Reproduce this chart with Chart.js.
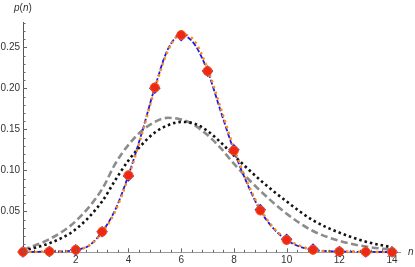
<!DOCTYPE html>
<html>
<head>
<meta charset="utf-8"/>
<title>p(n)</title>
<script src="https://cdn.jsdelivr.net/npm/chart.js"></script>
<style>
html, body { margin: 0; padding: 0; background: #fff; }
#wrap { width: 415px; height: 267px; }
</style>
</head>
<body>
<div id="wrap"><canvas id="plot"></canvas></div>
<script>
// values
const nPoints = [0, 1, 2, 3, 4, 5, 6, 7, 8, 9, 10, 11, 12, 13, 14];
const pRed  = [0.0005, 0.001, 0.003, 0.025, 0.094, 0.201, 0.265, 0.221, 0.124, 0.051, 0.015, 0.003, 0.001, 0.0005, 0.0003];
const pBlue = [0.0005, 0.001, 0.003, 0.025, 0.093, 0.200, 0.264, 0.221, 0.125, 0.052, 0.016, 0.004, 0.001, 0.0005, 0.0003];

const nFine    = [0, 0.5, 1, 1.5, 2, 2.5, 3, 3.5, 4, 4.5, 5, 5.5, 6, 6.5, 7, 7.5, 8, 8.5, 9, 9.5, 10, 10.5, 11, 11.5, 12, 13, 14];
const blueLine = [0.0005, 0.0005, 0.001, 0.001, 0.003, 0.008, 0.025, 0.052, 0.094, 0.145, 0.201, 0.248, 0.265, 0.254, 0.221, 0.172, 0.124, 0.084, 0.051, 0.029, 0.015, 0.007, 0.003, 0.0015, 0.001, 0.0005, 0.0003];
const orangeLine = [0.0005, 0.0005, 0.001, 0.001, 0.003, 0.008, 0.024, 0.050, 0.092, 0.143, 0.199, 0.246, 0.266, 0.258, 0.224, 0.176, 0.127, 0.086, 0.053, 0.030, 0.016, 0.008, 0.003, 0.0015, 0.001, 0.0005, 0.0003];

const nBroad   = [0, 1, 2, 3, 3.5, 4, 4.5, 5, 5.5, 6, 6.5, 7, 7.5, 8, 9, 10, 11, 12, 13, 14];
const blackDot = [0.002, 0.011, 0.028, 0.062, 0.088, 0.112, 0.131, 0.146, 0.155, 0.159, 0.157, 0.148, 0.134, 0.118, 0.088, 0.062, 0.039, 0.024, 0.013, 0.006];
const grayDash = [0.003, 0.016, 0.038, 0.077, 0.108, 0.131, 0.148, 0.159, 0.164, 0.162, 0.155, 0.143, 0.127, 0.108, 0.075, 0.047, 0.026, 0.014, 0.007, 0.003];

const xTicks = [2, 4, 6, 8, 10, 12, 14];
const yTicks = [0.05, 0.10, 0.15, 0.20, 0.25];

function xy(xs, ys) {
  return xs.map((x, i) => ({ x: x, y: ys[i] }));
}

// inward tick marks, Mathematica style
const tickMarks = {
  id: 'tickMarks',
  afterDraw(chart) {
    const c = chart.ctx;
    const xs = chart.scales.x, ys = chart.scales.y;
    const a = chart.chartArea;
    c.save();
    c.strokeStyle = '#666';
    c.lineWidth = 1;
    for (let i = 0; i <= 35; i++) {
      const v = i * 0.4;
      const px = Math.round(xs.getPixelForValue(v)) + 0.5;
      const len = (i % 5 === 0) ? 4 : 2.5;
      c.beginPath();
      c.moveTo(px, a.bottom);
      c.lineTo(px, a.bottom - len);
      c.stroke();
    }
    for (let i = 0; i <= 28; i++) {
      const v = i * 0.01;
      const py = Math.round(ys.getPixelForValue(v)) + 0.5;
      const len = (i % 5 === 0) ? 4 : 2.5;
      c.beginPath();
      c.moveTo(a.left, py);
      c.lineTo(a.left + len, py);
      c.stroke();
    }
    // axis labels
    c.fillStyle = '#333';
    c.textBaseline = 'middle';
    c.font = 'italic 10px "Liberation Sans"';
    c.textAlign = 'left';
    c.fillText('n', 408, a.bottom);
    let x = 14;
    const parts = [['p', true], ['(', false], ['n', true], [')', false]];
    for (const [t, it] of parts) {
      c.font = (it ? 'italic ' : '') + '10px "Liberation Sans"';
      c.fillText(t, x, 8);
      x += c.measureText(t).width;
    }
    c.restore();
  }
};

new Chart(document.getElementById('plot'), {
  type: 'scatter',
  data: {
    datasets: [
      { type: 'line', data: xy(nPoints, pRed), showLine: false, pointStyle: 'circle', pointRadius: 4.5,
        backgroundColor: 'rgb(238,40,20)', borderColor: 'rgb(250,90,20)', borderWidth: 1, order: 0 },
      { type: 'line', data: xy(nPoints, pBlue), showLine: false, pointStyle: 'rectRot', pointRadius: 5.8,
        backgroundColor: 'rgb(30,30,240)', borderColor: 'rgb(30,30,240)', borderWidth: 0, order: 1 },
      { type: 'line', data: xy(nFine, orangeLine), borderColor: 'rgb(255,140,20)', borderWidth: 2.4,
        borderDash: [2.5, 3.5], pointRadius: 0, cubicInterpolationMode: 'monotone', order: 2 },
      { type: 'line', data: xy(nFine, blueLine), borderColor: 'rgb(25,25,235)', borderWidth: 1.8,
        borderDash: [5, 2], pointRadius: 0, cubicInterpolationMode: 'monotone', order: 3 },
      { type: 'line', data: xy(nBroad, blackDot), borderColor: '#111', borderWidth: 2.6,
        borderDash: [2.5, 3], pointRadius: 0, cubicInterpolationMode: 'monotone', order: 4 },
      { type: 'line', data: xy(nBroad, grayDash), borderColor: 'rgb(140,140,140)', borderWidth: 2.6,
        borderDash: [7, 3.5], pointRadius: 0, cubicInterpolationMode: 'monotone', order: 5 }
    ]
  },
  options: {
    responsive: true,
    maintainAspectRatio: false,
    animation: false,
    events: [],
    clip: false,
    layout: { padding: { top: 22.7, right: 15, left: 0, bottom: 0 } },
    plugins: { legend: { display: false }, tooltip: { enabled: false } },
    scales: {
      x: {
        type: 'linear', min: 0, max: 14.3,
        afterBuildTicks: s => { s.ticks = xTicks.map(v => ({ value: v })); },
        afterFit: s => { s.height = 14.7; },
        grid: { display: false, drawTicks: false },
        border: { display: true, color: '#999', width: 1 },
        ticks: { padding: 2, color: '#333', font: { family: 'Liberation Sans', size: 10 }, maxRotation: 0 }
      },
      y: {
        type: 'linear', min: 0, max: 0.28,
        afterBuildTicks: s => { s.ticks = yTicks.map(v => ({ value: v })); },
        afterFit: s => { s.width = 23; },
        grid: { display: false, drawTicks: false },
        border: { display: true, color: '#555', width: 1 },
        ticks: { padding: 3, color: '#333', font: { family: 'Liberation Sans', size: 10 },
          callback: v => v.toFixed(2) }
      }
    }
  },
  plugins: [tickMarks]
});
</script>
</body>
</html>
